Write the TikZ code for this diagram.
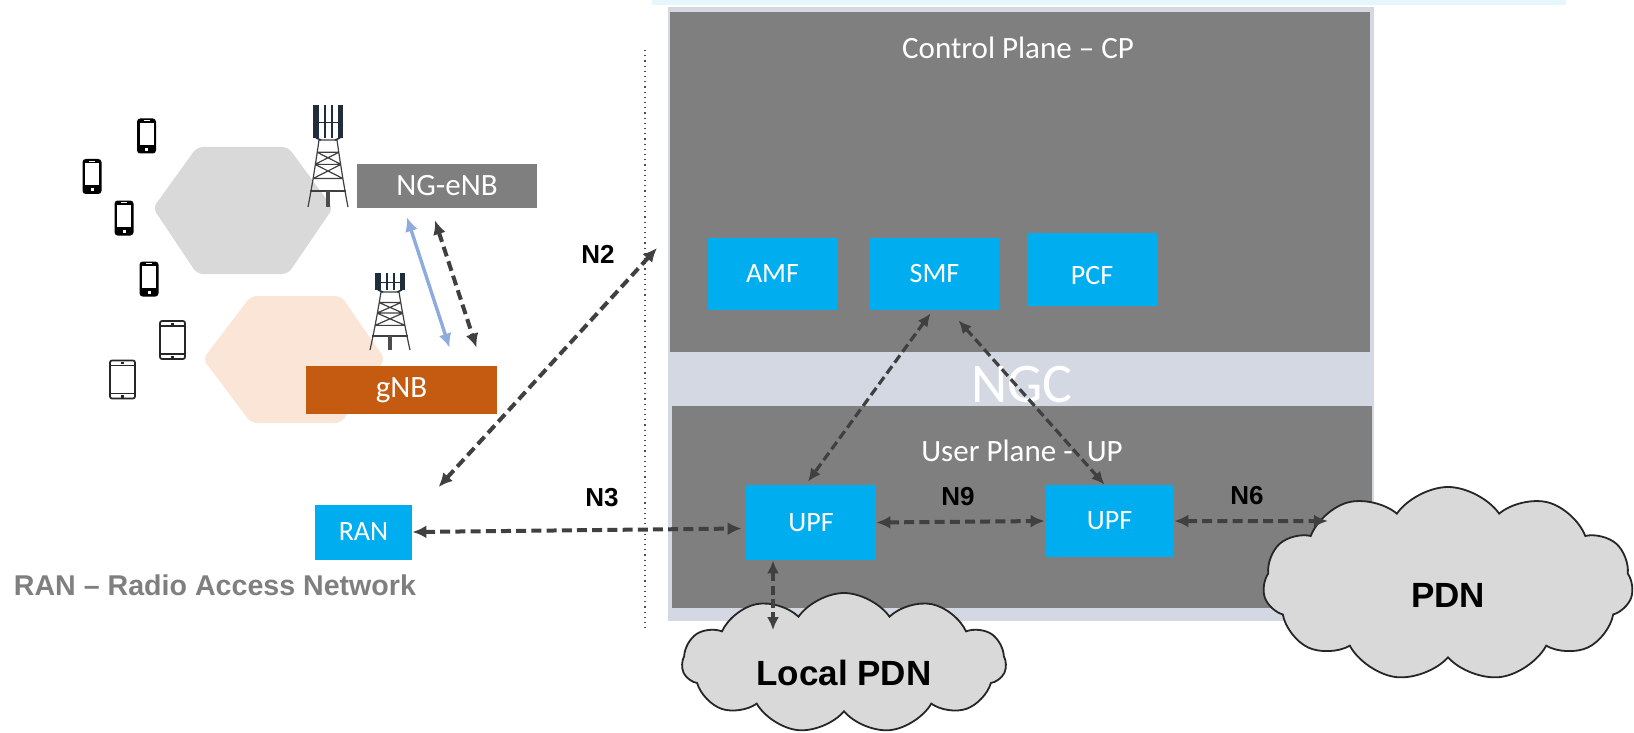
\documentclass[tikz,border=0pt]{standalone}
\usepackage{fontspec}
\setmainfont{Carlito}
\newfontfamily\labelfont{Liberation Sans}
\usetikzlibrary{arrows.meta,shapes.geometric,shapes.symbols,calc}
\definecolor{panel}{HTML}{7F7F7F}
\definecolor{plate}{HTML}{D3D8E3}
\definecolor{nf}{HTML}{00AEEF}
\definecolor{hexgray}{HTML}{D9D9D9}
\definecolor{hexorange}{HTML}{FBE5D6}
\definecolor{gnbc}{HTML}{C55A11}
\definecolor{linkc}{HTML}{404040}
\definecolor{xnblue}{HTML}{8FAADC}
\definecolor{cloudc}{HTML}{D9D9D9}
\definecolor{navy}{HTML}{1F2D3D}
\definecolor{strip}{HTML}{E6F7FB}
\newcommand{\lowered}[2]{\raisebox{-#1}[\height][\depth]{#2}}
\tikzset{
  x=0.5pt,y=-0.5pt,
  nfbox/.style={rectangle,fill=nf,text=white,inner sep=0pt,font=\fontsize{14}{17}\selectfont},
  paneltext/.style={text=white,inner sep=0pt,font=\fontsize{15.5}{18}\selectfont},
  lbl/.style={text=black,inner sep=0pt,font=\labelfont\bfseries\fontsize{13}{15}\selectfont},
  link/.style={draw=linkc,line width=2pt,dash pattern=on 5pt off 2.6pt,{Latex[length=7pt,width=6.5pt]}-{Latex[length=7pt,width=6.5pt]}},
  thinlink/.style={draw=linkc,line width=1.6pt,dash pattern=on 4.5pt off 2.2pt,{Latex[length=6.5pt,width=6pt]}-{Latex[length=6.5pt,width=6pt]}},
  pdncloud/.style={cloud,draw=black!85,line width=0.9pt,fill=cloudc,cloud puffs=11,cloud puff arc=110,inner sep=0pt,text=black,font=\labelfont\bfseries\fontsize{17.5}{20}\selectfont},
  hexshape/.style={rounded corners=3pt},
  pics/phone/.style={code={
    \fill[black,rounded corners=1.6pt] (-9.5,-17.5) rectangle (9.5,17.5);
    \fill[white] (-7,-13) rectangle (7,9);
    \fill[white] (-3,-15.6) rectangle (3,-14.6);
    \fill[white] (-1.5,12) rectangle (1.5,15);
  }},
  pics/tablet/.style={code={
    \draw[black!85,line width=0.85pt,rounded corners=1pt,fill=white] (-12.5,-19) rectangle (12.5,19);
    \draw[black!85,line width=0.85pt] (-12.5,-14) -- (12.5,-14) (-12.5,14) -- (12.5,14);
    \fill[black!85] (-1.5,15.5) rectangle (1.5,18);
    \fill[black!85] (-1.5,-17.5) rectangle (1.5,-15.5);
  }},
  pics/tower/.style n args={3}{code={
    \begin{scope}[yscale=#1/66]
      \draw[black!75,line width=0.6pt]
        (-20,0) .. controls (-16,-20) and (-12,-45) .. (-9,-66)
        (20,0) .. controls (16,-20) and (12,-45) .. (9,-66)
        (-9,-66) -- (9,-66)
        (-11,-54) -- (11,-54) (-15,-28) -- (15,-28) (-13,-42) -- (13,-42)
        (-11,-54) -- (13,-42) (11,-54) -- (-13,-42)
        (-13,-42) -- (15,-28) (13,-42) -- (-15,-28);
      \draw[black!75,line width=1pt] (-18,-16) -- (18,-16);
      \fill[black!70] (-2.2,0) rectangle (2.2,-16);
    \end{scope}
    \begin{scope}[xscale=#3]
      \fill[navy] (-15,{-#1-#2}) rectangle (-9.5,{-#1-2});
      \fill[navy] (9.5,{-#1-#2}) rectangle (15,{-#1-2});
      \fill[navy] (-4.5,{-#1-#2}) rectangle (-2.5,{-#1-2});
      \fill[navy] (2.5,{-#1-#2}) rectangle (4.5,{-#1-2});
      \draw[navy,line width=0.8pt] (-10,{-#1-#2/2}) -- (10,{-#1-#2/2});
      \draw[navy,line width=0.7pt] (-12,{-#1-2}) -- (-7,-#1) (12,{-#1-2}) -- (7,-#1);
    \end{scope}
  }}
}
\begin{document}
\begin{tikzpicture}
\useasboundingbox (0,0) rectangle (1634,733);
% faint strip along the top edge
\fill[strip] (652,0) rectangle (1566,5);
% core plates
\fill[plate] (668,7) rectangle (1374,621);
\fill[panel] (670,12) rectangle (1370,352);
\fill[panel] (672,406) rectangle (1372,608);
\node[paneltext] (cp) at (1018,48) {Control Plane – CP};
\node[text=white,inner sep=0pt,font=\fontsize{28}{32}\selectfont] (ngc) at (1022,385) {NGC};
\node[paneltext] (up) at (1022,451) {User Plane -\ \ UP};
% dotted divider
\coordinate (divtop) at (645,50);
\coordinate (divbot) at (645,632);
\draw[black!70,line width=0.6pt,dotted] (divtop) -- (divbot);
% hexagons
\fill[hexgray,hexshape] (153,208) -- (197,147) -- (288,147) -- (333,208) -- (288,274) -- (197,274) -- cycle;
\fill[hexorange,hexshape] (203,359) -- (251,296) -- (341,296) -- (385,359) -- (341,423) -- (251,423) -- cycle;
% devices
\pic at (146.5,136) {phone};
\pic at (92,176.5) {phone};
\pic at (124,218) {phone};
\pic at (149,279) {phone};
\pic at (172.5,340) {tablet};
\pic at (122.5,379.5) {tablet};
\pic at (328,207) {tower={67}{35}{1}};
\pic at (390,350) {tower={58}{19}{1}};
% access nodes
\node[rectangle,fill=panel,text=white,inner sep=0pt,minimum width=90pt,minimum height=22pt,font=\fontsize{15.5}{18}\selectfont] (enb) at (447,186) {NG-eNB};
\node[rectangle,fill=gnbc,text=white,inner sep=0pt,minimum width=95.5pt,minimum height=24pt,font=\fontsize{15.5}{18}\selectfont] (gnb) at (401.5,390) {gNB};
\node[nfbox,minimum width=48.5pt,minimum height=27.5pt] (ran) at (363.5,532) {RAN};
\node[inner sep=0pt,text=panel,font=\labelfont\bfseries\fontsize{14.3}{16}\selectfont] (rantext) at (215,585) {RAN – Radio Access Network};
% network functions
\node[nfbox,minimum width=64.5pt,minimum height=36pt] (amf) at (772.5,274) {AMF};
\node[nfbox,minimum width=64.5pt,minimum height=36pt] (smf) at (934.5,274) {SMF};
\node[nfbox,minimum width=65pt,minimum height=36.5pt] (pcf) at (1092,269.5) {\lowered{3pt}{PCF}};
\node[nfbox,minimum width=65pt,minimum height=37.5pt] (upfa) at (811,522.5) {UPF};
\node[nfbox,minimum width=64.5pt,minimum height=36pt] (upfb) at (1109.5,521) {UPF};
% clouds
\node[pdncloud,minimum width=185pt,minimum height=97pt,aspect=1.9] (pdn) at (1448,584) {\lowered{5.7pt}{PDN}};
\node[pdncloud,minimum width=162pt,minimum height=70pt,aspect=2.3] (local) at (844,663) {\lowered{5.2pt}{Local PDN}};
% labels
\node[lbl] (ntwo) at (598,254) {N2};
\node[lbl] (nthree) at (602,498) {N3};
\node[lbl] (nnine) at (958,497) {N9};
\node[lbl] (nsix) at (1247,496) {N6};
% connectors
\draw[{Latex[length=7pt,width=6.5pt]}-{Latex[length=7pt,width=6.5pt]},draw=xnblue,fill=xnblue,line width=1.7pt] ($(enb.south)+(-40,9)$) -- ($(gnb.north)+(48,-18)$);
\draw[link] ($(enb.south)+(-12,12)$) -- ($(gnb.north)+(75,-18)$);
\coordinate (ntwoend) at (657,248);
\draw[link] ($(ran.north)+(75,-17)$) -- (ntwoend);
\draw[link] (ran.east) -- ($(upfa.west)+(-4,6)$);
\draw[link] (upfa.east) -- (upfb.west);
\draw[link] (upfb.east) -- ($(pdn.west)+(65,-63)$);
\draw[thinlink] ($(upfa.south)+(-38,0)$) -- ($(local.north)+(-71,38)$);
\draw[thinlink] ($(smf.south)+(-4,3)$) -- ($(upfa.north)+(-3,-3)$);
\draw[thinlink] ($(smf.south)+(24,10)$) -- ($(upfb.north)+(-5,0)$);
\end{tikzpicture}
\end{document}
